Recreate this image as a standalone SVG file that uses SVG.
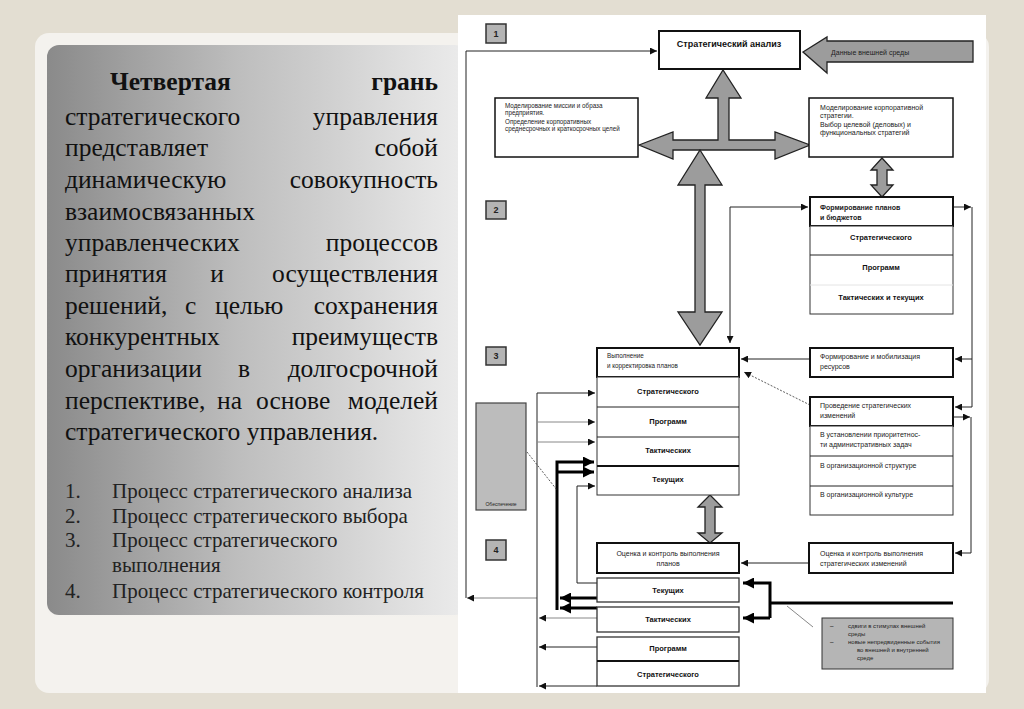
<svg xmlns="http://www.w3.org/2000/svg" width="1024" height="709" viewBox="0 0 1024 709">
<defs>
<linearGradient id="panel" x1="0" y1="0" x2="1" y2="0">
<stop offset="0" stop-color="#8a8a8a"/>
<stop offset="0.45" stop-color="#bdbdbd"/>
<stop offset="1" stop-color="#ececec"/>
</linearGradient>
<linearGradient id="shadow" x1="0" y1="0" x2="0" y2="1">
<stop offset="0" stop-color="#777"/>
<stop offset="1" stop-color="#777" stop-opacity="0"/>
</linearGradient>
<marker id="a" viewBox="0 0 10 10" refX="10" refY="5" markerWidth="7" markerHeight="7" markerUnits="userSpaceOnUse" orient="auto-start-reverse">
<path d="M0,0 L10,5 L0,10 Z" fill="#111"/>
</marker>
<marker id="ag" viewBox="0 0 10 10" refX="10" refY="5" markerWidth="7" markerHeight="7" markerUnits="userSpaceOnUse" orient="auto">
<path d="M0,0 L10,5 L0,10 Z" fill="#111"/>
</marker>
<marker id="ab" viewBox="0 0 10 10" refX="10" refY="5" markerWidth="11" markerHeight="11" markerUnits="userSpaceOnUse" orient="auto">
<path d="M0,0 L10,5 L0,10 Z" fill="#000"/>
</marker>
<style>
.main{font-family:"Liberation Serif","Times New Roman",serif;font-size:25.5px;fill:#111}
.b{font-weight:bold}
.lst{font-family:"Liberation Serif","Times New Roman",serif;font-size:21px;fill:#222}
.bx{fill:#fff;stroke:#111;stroke-width:2}
.row{fill:#fff;stroke:#333;stroke-width:1}
.num{fill:#b4b4b4;stroke:#333;stroke-width:1.5}
.ga{fill:#9c9c9c;stroke:#222;stroke-width:1.3;stroke-linejoin:miter}
.ln{fill:none;stroke:#222;stroke-width:1}
.lg{fill:none;stroke:#888;stroke-width:1}
.tk{fill:none;stroke:#000;stroke-width:3}
.ds{fill:none;stroke:#333;stroke-width:0.8;stroke-dasharray:2 1.5}
.t{font-family:"Liberation Sans",Arial,sans-serif;font-size:7px;fill:#222}
.tb{font-family:"Liberation Sans",Arial,sans-serif;font-size:7.5px;font-weight:bold;fill:#111;text-anchor:middle}
.ts{font-family:"Liberation Sans",Arial,sans-serif;font-size:6.3px;fill:#222}
.tn{font-family:"Liberation Sans",Arial,sans-serif;font-size:9px;font-weight:bold;fill:#222;text-anchor:middle}
</style>
</defs>

<rect x="0" y="0" width="1024" height="709" fill="#e3ded2"/>
<rect x="35" y="33" width="954" height="660" rx="14" fill="#f4f2ee"/>

<g id="left-panel">
<rect x="47" y="47" width="420" height="572" rx="12" fill="url(#shadow)" opacity="0.6"/>
<rect x="47" y="45" width="420" height="570" rx="12" fill="url(#panel)"/>
<text class="main b" x="110" y="90">Четвертая</text>
<text class="main b" x="438" y="90" text-anchor="end">грань</text>
<text class="main" x="65" y="125">стратегического</text>
<text class="main" x="438" y="125" text-anchor="end">управления</text>
<text class="main" x="65" y="156">представляет</text>
<text class="main" x="438" y="156" text-anchor="end">собой</text>
<text class="main" x="65" y="188">динамическую</text>
<text class="main" x="438" y="188" text-anchor="end">совокупность</text>
<text class="main" x="65" y="220">взаимосвязанных</text>
<text class="main" x="65" y="251">управленческих</text>
<text class="main" x="438" y="251" text-anchor="end">процессов</text>
<text class="main" x="65" y="282">принятия</text>
<text class="main" x="217" y="282" text-anchor="middle">и</text>
<text class="main" x="438" y="282" text-anchor="end">осуществления</text>
<text class="main" x="65" y="314">решений,</text>
<text class="main" x="185" y="314">с</text>
<text class="main" x="215" y="314">целью</text>
<text class="main" x="438" y="314" text-anchor="end">сохранения</text>
<text class="main" x="65" y="345">конкурентных</text>
<text class="main" x="438" y="345" text-anchor="end">преимуществ</text>
<text class="main" x="65" y="377">организации</text>
<text class="main" x="244" y="377" text-anchor="middle">в</text>
<text class="main" x="438" y="377" text-anchor="end">долгосрочной</text>
<text class="main" x="65" y="409">перспективе,</text>
<text class="main" x="217" y="409">на</text>
<text class="main" x="256" y="409">основе</text>
<text class="main" x="438" y="409" text-anchor="end">моделей</text>
<text class="main" x="65" y="440">стратегического управления.</text>
<text class="lst" x="65" y="498">1.</text><text class="lst" x="112" y="498">Процесс стратегического анализа</text>
<text class="lst" x="65" y="523">2.</text><text class="lst" x="112" y="523">Процесс стратегического выбора</text>
<text class="lst" x="65" y="547">3.</text><text class="lst" x="112" y="547">Процесс стратегического</text>
<text class="lst" x="112" y="572">выполнения</text>
<text class="lst" x="65" y="598">4.</text><text class="lst" x="112" y="598">Процесс стратегического контроля</text>
</g>

<rect x="458" y="15" width="528" height="678" fill="#fff"/>

<g id="stage-labels">
<rect class="num" x="486" y="24" width="20" height="19"/><text class="tn" x="496" y="37">1</text>
<rect class="num" x="486" y="201" width="20" height="18"/><text class="tn" x="496" y="213">2</text>
<rect class="num" x="486" y="347" width="20" height="18"/><text class="tn" x="496" y="359">3</text>
<rect class="num" x="486" y="540" width="20" height="20"/><text class="tn" x="496" y="553">4</text>
</g>

<g id="connectors">
<path class="ga" d="M639,145 L673,132 L673,140 L718,140 L718,98 L706,98 L723,70 L741,98 L729,98 L729,140 L775,140 L775,132 L810,145 L775,159 L775,150 L673,150 L673,159 Z"/>
<path class="ga" d="M700,150 L722,185 L705,185 L705,312 L722,312 L700,345 L678,312 L695,312 L695,185 L678,185 Z"/>
<path class="ga" d="M803,52 L827,37 L827,41 L973,41 L973,62 L827,62 L827,73 Z"/>
<path class="ga" d="M882,158 L893,170 L887,170 L887,185 L893,185 L882,197 L871,185 L877,185 L877,170 L871,170 Z"/>
<path class="ga" d="M710,495 L722,507 L715,507 L715,533 L722,533 L710,543 L698,533 L705,533 L705,507 L698,507 Z"/>

<path class="ln" d="M466,598 V51 H657" marker-end="url(#ag)"/>
<path class="lg" d="M537,598 H467" marker-end="url(#ag)"/>
<path class="ln" d="M730,343 V207 H808" marker-start="url(#a)" marker-end="url(#a)"/>
<path class="ln" d="M953,207 H971" marker-end="url(#ag)"/>
<path class="ln" d="M972,207 V407 H955" marker-end="url(#ag)"/>
<path class="ln" d="M972,359 H955" marker-end="url(#ag)"/>
<path class="ln" d="M810,359 H741" marker-end="url(#ag)"/>
<path class="ds" d="M810,405 L744,372" marker-end="url(#ag)"/>
<path class="ln" d="M953,417 H970" marker-end="url(#ag)"/>
<path class="ln" d="M971,417 V553 H955" marker-end="url(#ag)"/>
<path class="ln" d="M809,563 H741" marker-end="url(#ag)"/>

<path class="ln" d="M537,687 V393 H595" marker-end="url(#ag)"/>
<path class="lg" d="M537,422 H595" marker-end="url(#ag)"/>
<path class="lg" d="M537,442 H595" marker-end="url(#ag)"/>
<path class="lg" d="M597,618 H539" marker-end="url(#ag)"/>
<path class="ln" d="M597,647 H539" marker-end="url(#ag)"/>
<path class="ln" d="M597,686 H539" marker-end="url(#ag)"/>
<path class="ln" d="M597,583 H577 V486 H595" marker-end="url(#ag)"/>
<path class="tk" d="M557,610 V462 H594" marker-end="url(#ab)"/>
<path class="tk" d="M557,472 H594" marker-end="url(#ab)"/>
<path class="tk" d="M597,598 H560" marker-end="url(#ab)"/>
<path class="tk" d="M597,608 H560" marker-end="url(#ab)"/>
<path class="ds" d="M527,452 L557,490"/>

<path class="tk" d="M953,603 H770"/>
<path class="tk" d="M770,618 V583 H743" marker-end="url(#ab)"/>
<path class="tk" d="M770,618 H743" marker-end="url(#ab)"/>
<path class="lg" d="M787,606 L813,627"/>
</g>

<g id="strategic-analysis">
<rect class="bx" x="659" y="31" width="141" height="38"/>
<text class="tb" x="729" y="47" style="font-size:9px">Стратегический анализ</text>
</g>
<g id="external-data">
<text class="t" x="831" y="55">Данные внешней среды</text>
</g>

<g id="mission">
<rect class="bx" x="495" y="98" width="143" height="59" style="stroke-width:1.5"/>
<text class="ts" x="505" y="108">Моделирование миссии и образа</text>
<text class="ts" x="505" y="115">предприятия.</text>
<text class="ts" x="505" y="124">Определение корпоративных</text>
<text class="ts" x="505" y="131">среднесрочных и краткосрочных целей</text>
</g>

<g id="corp-strategy">
<rect class="bx" x="809" y="98" width="144" height="59" style="stroke-width:1.5"/>
<text class="t" x="820" y="110">Моделирование корпоративной</text>
<text class="t" x="820" y="118">стратегии.</text>
<text class="t" x="820" y="127">Выбор целевой (деловых) и</text>
<text class="t" x="820" y="135">функциональных стратегий</text>
</g>

<g id="plans">
<rect class="bx" x="810" y="197" width="143" height="29"/>
<text class="t" x="820" y="210" style="font-weight:bold">Формирование планов</text>
<text class="t" x="820" y="220" style="font-weight:bold">и бюджетов</text>
<rect class="row" x="810" y="226" width="143" height="88"/>
<line class="ln" x1="810" y1="255" x2="953" y2="255"/>
<line x1="810" y1="285" x2="953" y2="285" stroke="#e4e4e4"/>
<text class="tb" x="881" y="240">Стратегического</text>
<text class="tb" x="881" y="270">Программ</text>
<text class="tb" x="881" y="300">Тактических и текущих</text>
</g>

<g id="resources">
<rect class="bx" x="810" y="348" width="143" height="29"/>
<text class="t" x="820" y="359">Формирование и мобилизация</text>
<text class="t" x="820" y="369">ресурсов</text>
</g>

<g id="execution">
<rect class="bx" x="597" y="348" width="142" height="29"/>
<text class="ts" x="607" y="358">Выполнение</text>
<text class="ts" x="607" y="368">и корректировка планов</text>
<rect class="row" x="597" y="377" width="142" height="118"/>
<line class="ln" x1="597" y1="407" x2="739" y2="407"/>
<line class="ln" x1="597" y1="437" x2="739" y2="437"/>
<line x1="597" y1="466" x2="739" y2="466" stroke="#111" stroke-width="2"/>
<text class="tb" x="668" y="394">Стратегического</text>
<text class="tb" x="668" y="424">Программ</text>
<text class="tb" x="668" y="453">Тактических</text>
<text class="tb" x="668" y="482">Текущих</text>
</g>

<g id="changes">
<rect class="bx" x="810" y="397" width="143" height="29"/>
<text class="t" x="820" y="408">Проведение стратегических</text>
<text class="t" x="820" y="418">изменений</text>
<rect class="row" x="810" y="426" width="143" height="89"/>
<line class="ln" x1="810" y1="456" x2="953" y2="456"/>
<line class="ln" x1="810" y1="486" x2="953" y2="486"/>
<text class="t" x="820" y="437">В установлении приоритетнос-</text>
<text class="t" x="820" y="447">ти административных задач</text>
<text class="t" x="820" y="468">В организационной структуре</text>
<text class="t" x="820" y="497">В организационной культуре</text>
</g>

<g id="support">
<rect x="476" y="403" width="50" height="107" fill="#bcbcbc" stroke="#444" stroke-width="1.2"/>
<text class="ts" x="501" y="506" text-anchor="middle" style="font-size:5px">Обеспечение</text>
</g>

<g id="control-plans">
<rect class="bx" x="597" y="543" width="142" height="30"/>
<text class="t" x="668" y="556" text-anchor="middle">Оценка и контроль выполнения</text>
<text class="t" x="668" y="566" text-anchor="middle">планов</text>
<rect class="row" x="597" y="578" width="142" height="24" style="stroke-width:1.3"/>
<rect class="row" x="597" y="607" width="142" height="25" style="stroke-width:1.3"/>
<rect class="row" x="597" y="637" width="142" height="49" style="stroke-width:1.3"/>
<line x1="597" y1="661" x2="739" y2="661" stroke="#111" stroke-width="2"/>
<text class="tb" x="668" y="593">Текущих</text>
<text class="tb" x="668" y="622">Тактических</text>
<text class="tb" x="668" y="651">Программ</text>
<text class="tb" x="668" y="677">Стратегического</text>
</g>

<g id="control-changes">
<rect class="bx" x="809" y="543" width="144" height="30"/>
<text class="t" x="820" y="556">Оценка и контроль выполнения</text>
<text class="t" x="820" y="566">стратегических изменений</text>
</g>

<g id="note">
<rect x="822" y="618" width="131" height="51" fill="#b5b5b5" stroke="#333" stroke-width="1"/>
<text class="ts" x="830" y="628">–</text><text class="ts" x="848" y="628" style="font-size:6px">сдвиги в стимулах внешней</text>
<text class="ts" x="848" y="636" style="font-size:6px">среды</text>
<text class="ts" x="830" y="644">–</text><text class="ts" x="848" y="644" style="font-size:6px">новые непредвиденные события</text>
<text class="ts" x="857" y="652" style="font-size:6px">во внешней и внутренней</text>
<text class="ts" x="857" y="660" style="font-size:6px">среде</text>
</g>
</svg>
